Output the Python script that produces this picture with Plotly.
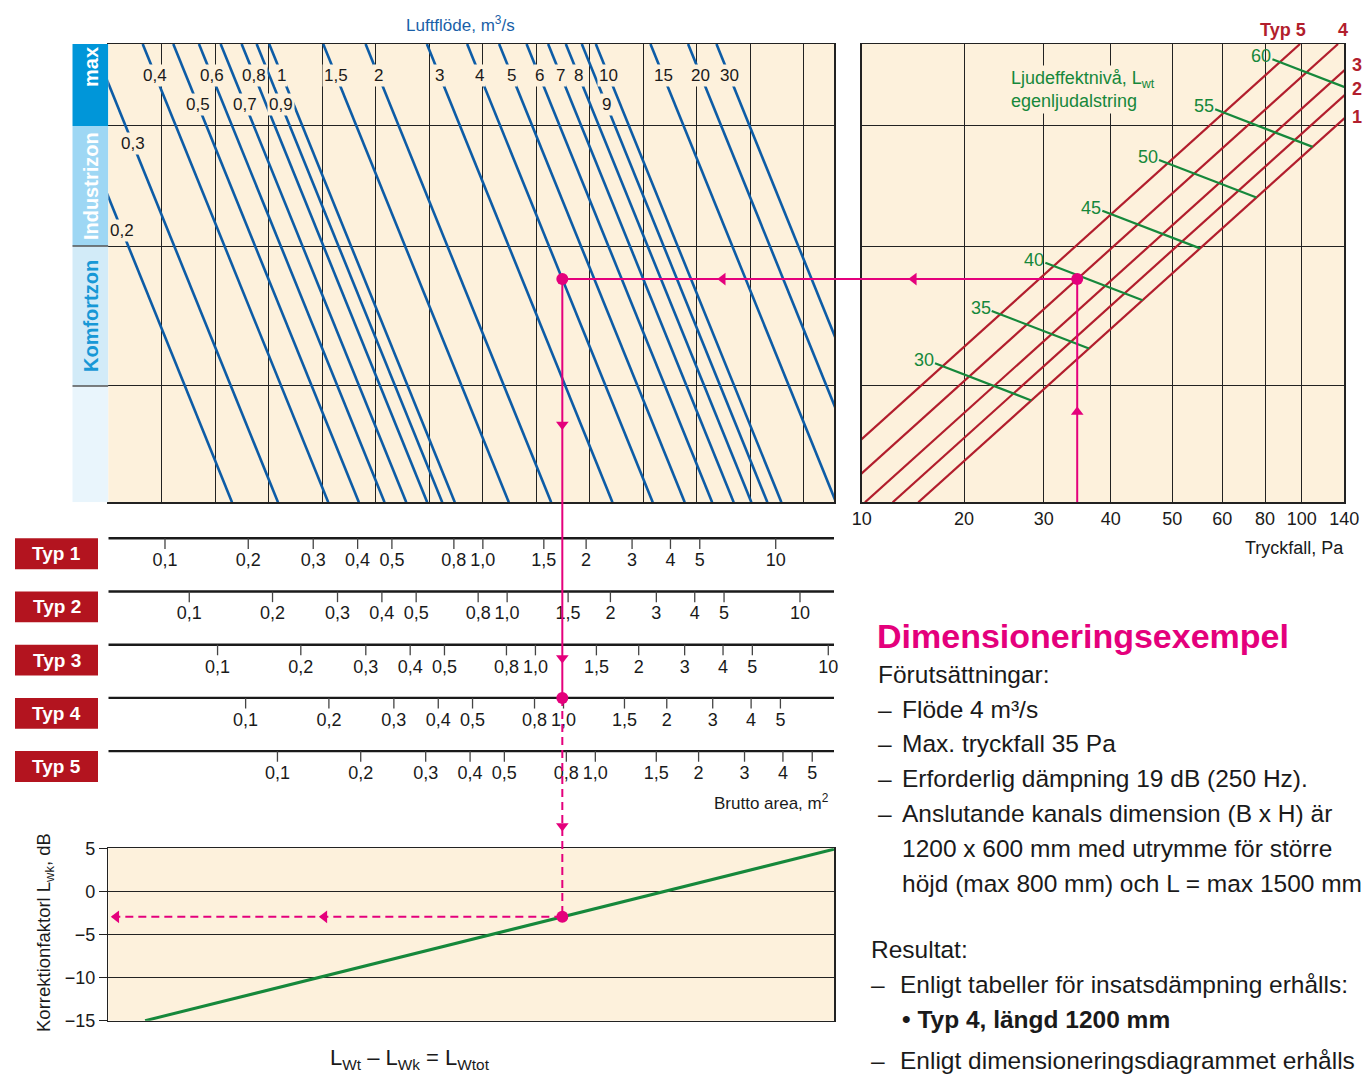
import numpy as np
import plotly.graph_objects as go

# ------------------------------------------------------------------ data
# Luftflöde lines (m³/s); reading of where each line meets the top edge of the
# nomogram, expressed in grid units of the area axis (vertical grid = 1 unit)
FLOWS = [0.2, 0.3, 0.4, 0.5, 0.6, 0.7, 0.8, 0.9, 1, 1.5, 2, 3, 4, 5, 6, 7, 8, 9, 10, 15, 20, 30]
FLOW_TEXT = ["0,2", "0,3", "0,4", "0,5", "0,6", "0,7", "0,8", "0,9", "1", "1,5", "2", "3",
             "4", "5", "6", "7", "8", "9", "10", "15", "20", "30"]
FLOW_TOP = [-1.157, -0.297, 0.643, 1.215, 1.695, 2.101, 2.493, 2.774, 3.009, 4.019, 4.811,
            5.957, 6.710, 7.308, 7.821, 8.224, 8.555, 8.854, 9.116, 10.138, 10.841, 11.372]
FLOW_LABEL_LEVEL = [59.2, 78.2, 93.2, 86.9, 93.2, 86.9, 93.2, 86.9, 93.2, 93.2, 93.2, 93.2,
                    93.2, 93.2, 93.2, 93.2, 93.2, 86.9, 93.2, 93.2, 93.2, 93.2]
FLOW_RUN = 3.47          # horizontal run of a flow line over the full chart height

# velocity zones (nomogram height, 0 = bottom, 100 = top)
ZONES = ["max", "Industrizon", "Komfortzon", ""]
ZONE_EDGES = [100, 82.11, 55.92, 25.38, 0]

# Brutto area scales (m²) – Typ 1 scale calibration and shift of the other types
AREA_VALUES = [0.1, 0.2, 0.3, 0.4, 0.5, 0.8, 1.0, 1.5, 2, 3, 4, 5, 10]
AREA_TEXT = ["0,1", "0,2", "0,3", "0,4", "0,5", "0,8", "1,0", "1,5", "2", "3", "4", "5", "10"]
AREA_SCALE_TYP1 = [1.06, 2.617, 3.832, 4.662, 5.303, 6.462, 7.004, 8.144, 8.935, 9.794,
                   10.512, 11.06, 12.48]
TYPES = ["Typ 1", "Typ 2", "Typ 3", "Typ 4", "Typ 5"]
TYPE_SHIFT = [0.0, 0.454, 0.983, 1.508, 2.103]

# Tryckfall axis (Pa) calibration
PRESSURE = [10, 20, 30, 40, 50, 60, 80, 100, 140]
PRESSURE_SCALE = [0.0, 2.120, 3.771, 5.160, 6.436, 7.472, 8.357, 9.117, 10.0]

# pressure-drop line of each type: position where it meets the bottom edge
TYPE_LINE_BOTTOM = [1.173, 0.642, 0.068, -0.667, -1.455]
TYPE_LINE_RUN = 10.537

# Ljudeffektnivå L_wt (dB) lines
SOUND_LEVELS = [30, 35, 40, 45, 50, 55, 60]
SOUND_START_X = [1.519, 2.694, 3.805, 4.986, 6.161, 7.324, 8.511]
SOUND_START_Y = [30.33, 41.74, 52.28, 63.62, 74.69, 85.75, 96.66]
SOUND_SLOPE = -4.06

# Korrektionsfaktor L_wk (dB) versus area position
CORR_X = [0.688, 13.57]
CORR_DB = [-15, 4.9]

# Dimensioneringsexempel
EX_FLOW = 4
EX_PRESSURE = 35
EX_TYPE = 4

# ------------------------------------------------------------------ style / layout
FONT = "Liberation Sans, Arial, Helvetica, sans-serif"
CREAM = "#fdf1dc"
BLUE = "#0d5ca6"
RED = "#b21e2d"
RED_BOX = "#b3141f"
GREEN = "#16883b"
PINK = "#e4007c"
GRID = "#222222"
INK = "#1a1a1a"

W, H = 1364, 1077


def px(x):
    return x / W


def py(y):
    return 1 - y / H


DOM_X_LEFT = [px(108.3), px(834)]
DOM_X_RIGHT = [px(861.7), px(1344.3)]
DOM_X_ZONE = [px(72.3), px(108.3)]
DOM_Y_TOP = [py(502.3), py(44)]
DOM_Y_TYP = [py(848.3), py(502.3)]
DOM_Y_CORR = [py(1020.7), py(848.3)]

X_RANGE = [0, 13.57]
Y_RANGE = [0, 100]
X2_RANGE = [0, 10]
Y3_RANGE = [6.827, 0.3233]
Y4_RANGE = [-15, 5]


def to_paper(dom, rng, v):
    return dom[0] + (v - rng[0]) / (rng[1] - rng[0]) * (dom[1] - dom[0])


fig = go.Figure()
shapes = []
ann = []


def note(text, x, y, xref="paper", yref="paper", xanchor="center", yanchor="middle", size=18,
         color=INK, **kw):
    ann.append(dict(text=text, x=x, y=y, xref=xref, yref=yref, xanchor=xanchor, yanchor=yanchor,
                    showarrow=False, font=dict(size=size, color=color, family=FONT), **kw))


# cream plot backgrounds
for xr, yr in [("x", "y"), ("x2", "y2"), ("x4", "y4")]:
    shapes.append(dict(type="rect", xref=xr + " domain", yref=yr + " domain", x0=0, x1=1, y0=0, y1=1,
                       fillcolor=CREAM, line=dict(width=0), layer="below"))

# ------------------------------------------------------------------ zone bar
zone_fill = ["#0096d9", "#9ed7f4", "#d2ebf8", "#e9f5fc"]
zone_text_col = ["white", "white", "#1798d6", "white"]
zone_text_y = [95.0, 69.0, 40.65, 12.0]
for i, z in enumerate(ZONES):
    shapes.append(dict(type="rect", xref="x5", yref="y5", x0=0, x1=1, y0=ZONE_EDGES[i + 1], y1=ZONE_EDGES[i],
                       fillcolor=zone_fill[i], line=dict(width=0), layer="below"))
    if z:
        note("<b>%s</b>" % z, 0.52, zone_text_y[i], xref="x5", yref="y5", size=20, color=zone_text_col[i],
             textangle=-90)
for e in ZONE_EDGES[2:4]:
    shapes.append(dict(type="line", xref="x5", yref="y5", x0=0, x1=1, y0=e, y1=e,
                       line=dict(color="#555", width=1.5)))

# ------------------------------------------------------------------ flow lines
fx, fy = [], []
for top in FLOW_TOP:
    fx += [top, top + FLOW_RUN, None]
    fy += [100, 0, None]
fig.add_trace(go.Scatter(x=fx, y=fy, mode="lines", line=dict(color=BLUE, width=2.6),
                         xaxis="x", yaxis="y", hoverinfo="skip", showlegend=False))
for top, t, lvl in zip(FLOW_TOP, FLOW_TEXT, FLOW_LABEL_LEVEL):
    note(t, top + (1 - lvl / 100) * FLOW_RUN, lvl, xref="x", yref="y", size=17, bgcolor=CREAM, borderpad=1)
note("Luftflöde, m<sup>3</sup>/s", px(461), py(24), size=17, color="#1a5fa8")

# ------------------------------------------------------------------ pressure / type lines
rx, ry = [], []
for b in TYPE_LINE_BOTTOM:
    rx += [b, b + TYPE_LINE_RUN, None]
    ry += [0, 100, None]
fig.add_trace(go.Scatter(x=rx, y=ry, mode="lines", line=dict(color=RED, width=2.2),
                         xaxis="x2", yaxis="y2", hoverinfo="skip", showlegend=False))

# type tags at the line ends
for i, b in enumerate(TYPE_LINE_BOTTOM):
    top_x = b + TYPE_LINE_RUN
    num = str(i + 1)
    if top_x <= X2_RANGE[1]:
        txt = "<b>Typ %s</b>" % num if i == 4 else "<b>%s</b>" % num
        note(txt, top_x, 100, xref="x2", yref="y2", xanchor="right" if i == 4 else "center",
             yanchor="bottom", xshift=8 if i == 4 else 5, yshift=2, color=RED)
    else:
        y_edge = 100 * (X2_RANGE[1] - b) / TYPE_LINE_RUN
        note("<b>%s</b>" % num, X2_RANGE[1], y_edge, xref="x2", yref="y2", xanchor="left",
             xshift=6, yshift=[1, 6, 5][i], color=RED)

# sound level lines: from label to the Typ 1 line
k1 = 100 / TYPE_LINE_RUN
gx, gy = [], []
for lv, xs, ys in zip(SOUND_LEVELS, SOUND_START_X, SOUND_START_Y):
    xe = (ys - SOUND_SLOPE * xs + k1 * TYPE_LINE_BOTTOM[0]) / (k1 - SOUND_SLOPE)
    ye = ys + SOUND_SLOPE * (xe - xs)
    gx += [xs, xe, None]
    gy += [ys, ye, None]
    note(str(lv), xs, ys, xref="x2", yref="y2", xanchor="right", yshift=3, xshift=1, color=GREEN)
fig.add_trace(go.Scatter(x=gx, y=gy, mode="lines", line=dict(color=GREEN, width=2.2),
                         xaxis="x2", yaxis="y2", hoverinfo="skip", showlegend=False))
note("Ljudeffektnivå, L<sub>wt</sub><br>egenljudalstring", 3.03, 90.0, xref="x2", yref="y2",
     xanchor="left", align="left", bgcolor=CREAM, borderpad=2, color=GREEN)
note("Tryckfall, Pa", px(1346), py(548), xanchor="right")

# ------------------------------------------------------------------ Typ area scales
lx, ly, tx, ty, tt = [], [], [], [], []
sx, sy = [], []
for k, (name, sh) in enumerate(zip(TYPES, TYPE_SHIFT), start=1):
    lx += [X_RANGE[0], X_RANGE[1], None]
    ly += [k, k, None]
    for a, t, u in zip(AREA_VALUES, AREA_TEXT, AREA_SCALE_TYP1):
        uu = u + sh
        if X_RANGE[0] <= uu <= X_RANGE[1]:
            sx += [uu, uu, None]
            sy += [k, k + 0.2, None]
            tx.append(uu)
            ty.append(k + 0.44)
            tt.append(t)
    shapes.append(dict(type="rect", xref="paper", yref="y3", x0=px(15), x1=px(98), y0=k, y1=k + 0.58,
                       fillcolor=RED_BOX, line=dict(width=0)))
    note("<b>%s</b>" % name, px(56.5), k + 0.29, yref="y3", size=19, color="white")
fig.add_trace(go.Scatter(x=lx, y=ly, mode="lines", line=dict(color=INK, width=2.4),
                         xaxis="x3", yaxis="y3", hoverinfo="skip", showlegend=False))
fig.add_trace(go.Scatter(x=sx, y=sy, mode="lines", line=dict(color="#444", width=1.3),
                         xaxis="x3", yaxis="y3", hoverinfo="skip", showlegend=False))
fig.add_trace(go.Scatter(x=tx, y=ty, mode="text", text=tt, cliponaxis=False,
                         textfont=dict(size=18, color=INK, family=FONT),
                         xaxis="x3", yaxis="y3", hoverinfo="skip", showlegend=False))
note("Brutto area, m<sup>2</sup>", px(831), py(802), xanchor="right", size=17)

# ------------------------------------------------------------------ correction chart
fig.add_trace(go.Scatter(x=CORR_X, y=CORR_DB, mode="lines", line=dict(color=GREEN, width=3),
                         xaxis="x4", yaxis="y4", hoverinfo="skip", showlegend=False))
note("Korrektionfaktorl L<sub>wk</sub>, dB", px(45), py(933), textangle=-90, size=18.5)
note("L<sub>Wt</sub> – L<sub>Wk</sub> = L<sub>Wtot</sub>", px(410), py(1059), size=22)

# ------------------------------------------------------------------ worked example (pink)
u2_ex = float(np.interp(EX_PRESSURE, PRESSURE, PRESSURE_SCALE))
b_ex = TYPE_LINE_BOTTOM[EX_TYPE - 1]
y_ex = 100 * (u2_ex - b_ex) / TYPE_LINE_RUN
u_ex = FLOW_TOP[FLOWS.index(EX_FLOW)] + (1 - y_ex / 100) * FLOW_RUN
corr_ex = float(np.interp(u_ex, CORR_X, CORR_DB))

pl = dict(color=PINK, width=2)
pld = dict(color=PINK, width=2, dash="8px,5px")
shapes += [
    dict(type="line", xref="x2", yref="y2", x0=u2_ex, x1=u2_ex, y0=0, y1=y_ex, line=pl),
    dict(type="line", xref="paper", yref="y", y0=y_ex, y1=y_ex,
         x0=to_paper(DOM_X_LEFT, X_RANGE, u_ex), x1=to_paper(DOM_X_RIGHT, X2_RANGE, u2_ex), line=pl),
    dict(type="line", xref="x", yref="paper", x0=u_ex, x1=u_ex,
         y0=to_paper(DOM_Y_TOP, Y_RANGE, y_ex), y1=to_paper(DOM_Y_TYP, Y3_RANGE, EX_TYPE), line=pl),
    dict(type="line", xref="x", yref="paper", x0=u_ex, x1=u_ex,
         y0=to_paper(DOM_Y_TYP, Y3_RANGE, EX_TYPE), y1=to_paper(DOM_Y_CORR, Y4_RANGE, corr_ex), line=pld),
    dict(type="line", xref="x4", yref="y4", x0=u_ex, x1=X_RANGE[0], y0=corr_ex, y1=corr_ex, line=pld),
]


def marks(x, y, sym, xa, ya, size=11):
    fig.add_trace(go.Scatter(x=x, y=y, mode="markers", cliponaxis=False,
                             marker=dict(symbol=sym, size=size, color=PINK, line=dict(width=0)),
                             xaxis=xa, yaxis=ya, hoverinfo="skip", showlegend=False))


marks([u2_ex, u2_ex], [19.7, -2.1], "triangle-up", "x2", "y2")
marks([1.08], [y_ex], "triangle-left", "x2", "y2")
marks([11.49], [y_ex], "triangle-left", "x", "y")
marks([u_ex], [17.0], "triangle-down", "x", "y")
marks([u_ex, u_ex], [3.25, 6.41], "triangle-down", "x3", "y3")
marks([4.04, 0.15], [corr_ex, corr_ex], "triangle-left", "x4", "y4")
marks([u2_ex], [y_ex], "circle", "x2", "y2", 12)
marks([u_ex], [y_ex], "circle", "x", "y", 12)
marks([u_ex], [EX_TYPE], "circle", "x3", "y3", 12)
marks([u_ex], [corr_ex], "circle", "x4", "y4", 12)

# ------------------------------------------------------------------ example text
TXT = 24.5
body = [
    (876, 674, "Förutsättningar:", False),
    (876, 709, "–", False), (900, 709, "Flöde 4 m³/s", False),
    (876, 743, "–", False), (900, 743, "Max. tryckfall 35 Pa", False),
    (876, 778, "–", False), (900, 778, "Erforderlig dämpning 19 dB (250 Hz).", False),
    (876, 813, "–", False), (900, 813, "Anslutande kanals dimension (B x H) är", False),
    (900, 848, "1200 x 600 mm med utrymme för större", False),
    (900, 883, "höjd (max 800 mm) och L = max 1500 mm", False),
    (869, 949, "Resultat:", False),
    (869, 984, "–", False), (898, 984, "Enligt tabeller för insatsdämpning erhålls:", False),
    (900, 1019, "• Typ 4, längd 1200 mm", True),
    (869, 1060, "–", False), (898, 1060, "Enligt dimensioneringsdiagrammet erhålls", False),
]
note("<b>Dimensioneringsexempel</b>", px(875), py(636), xanchor="left", size=34, color=PINK)
for x, y, t, bold in body:
    note("<b>%s</b>" % t if bold else t, px(x), py(y), xanchor="left", size=TXT)

# ------------------------------------------------------------------ axes
frame = dict(showline=True, linecolor=GRID, linewidth=1.5, mirror=True, zeroline=False, automargin=False)
fig.update_layout(
    width=W, height=H, autosize=False,
    margin=dict(l=0, r=0, t=0, b=0, pad=0, autoexpand=False),
    paper_bgcolor="white", plot_bgcolor="white",
    font=dict(family=FONT, color=INK),
    showlegend=False,
    shapes=shapes, annotations=ann,
    xaxis=dict(domain=DOM_X_LEFT, range=X_RANGE, anchor="y", tickvals=list(range(1, 14)),
               showticklabels=False, ticks="", showgrid=True, gridcolor=GRID, gridwidth=1, **frame),
    yaxis=dict(domain=DOM_Y_TOP, range=Y_RANGE, anchor="x", tickvals=ZONE_EDGES[1:4],
               showticklabels=False, ticks="", showgrid=True, gridcolor=GRID, gridwidth=1, **frame),
    xaxis2=dict(domain=DOM_X_RIGHT, range=X2_RANGE, anchor="y2", tickvals=PRESSURE_SCALE,
                ticktext=[str(p) for p in PRESSURE], ticks="", showgrid=True, gridcolor=GRID, gridwidth=1,
                tickfont=dict(size=18, color=INK, family=FONT), **frame),
    yaxis2=dict(domain=DOM_Y_TOP, range=Y_RANGE, anchor="x2", tickvals=ZONE_EDGES[1:4],
                showticklabels=False, ticks="", showgrid=True, gridcolor=GRID, gridwidth=1, **frame),
    xaxis3=dict(domain=DOM_X_LEFT, range=X_RANGE, anchor="y3", visible=False, automargin=False),
    yaxis3=dict(domain=DOM_Y_TYP, range=Y3_RANGE, anchor="x3", visible=False, automargin=False),
    xaxis4=dict(domain=DOM_X_LEFT, range=X_RANGE, anchor="y4", showticklabels=False, ticks="",
                showgrid=False, **frame),
    yaxis4=dict(domain=DOM_Y_CORR, range=Y4_RANGE, anchor="x4", tickvals=[-15, -10, -5, 0, 5],
                ticktext=["−15", "−10", "−5", "0", "5"], ticks="outside", ticklen=8, tickcolor=GRID,
                showgrid=True, gridcolor=GRID, gridwidth=1, tickfont=dict(size=18, color=INK, family=FONT),
                **frame),
    xaxis5=dict(domain=DOM_X_ZONE, range=[0, 1], anchor="y5", visible=False, automargin=False),
    yaxis5=dict(domain=DOM_Y_TOP, range=Y_RANGE, anchor="x5", visible=False, automargin=False),
)

# the page's default 8 px body margin would shift the whole figure; remove it
fig.write_html("out.html", config={"displayModeBar": False, "staticPlot": True},
               post_script="document.body.style.margin='0px';document.body.style.overflow='hidden';")
